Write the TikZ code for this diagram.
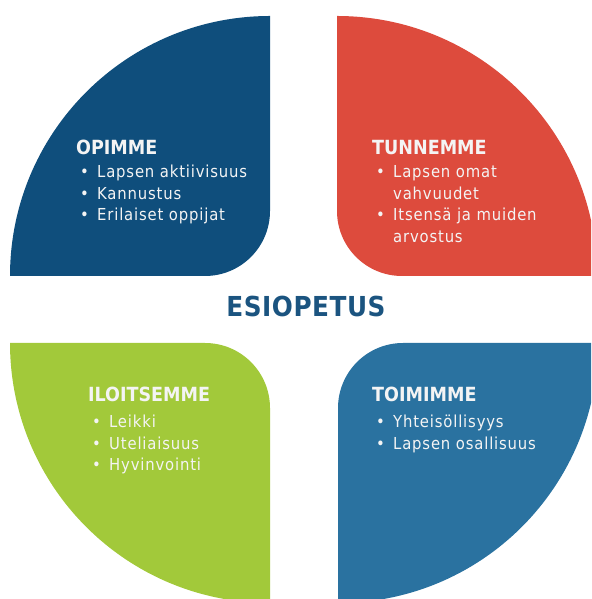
\documentclass[tikz,border=0pt]{standalone}
\usepackage{fontspec}
\setmainfont{DejaVu Sans Condensed}
\usepackage{tikz}
\definecolor{opblue}{HTML}{0F4E7C}
\definecolor{tunred}{HTML}{DD4B3D}
\definecolor{iloGreen}{HTML}{A2C93A}
\definecolor{toiblue}{HTML}{2A72A0}
\definecolor{esiblue}{HTML}{1B5480}
\definecolor{leaftext}{HTML}{F4F4F4}
\tikzstyle{head} = [anchor=base west, inner sep=0pt, text=leaftext, font=\fontsize{19.5}{22}\selectfont\bfseries]
\tikzstyle{item} = [anchor=base west, inner sep=0pt, text=leaftext, font=\fontsize{16.5}{22}\selectfont\addfontfeature{LetterSpace=5}]
\newcommand{\bul}{\makebox[21pt][l]{\hspace{4pt}\textbullet}}
\newcommand{\ind}{\hspace{21pt}}

\begin{document}
\begin{tikzpicture}[x=1pt,y=1pt]
\useasboundingbox (0,0) rectangle (591,599);
\clip (0,0) rectangle (591,599);
\fill[opblue] (270,583) arc[start angle=90,end angle=180,radius=260] -- (205,323) arc[start angle=-90,end angle=0,radius=65] -- cycle;
\fill[tunred] (337,583) arc[start angle=90,end angle=0,radius=260] -- (402,323) arc[start angle=-90,end angle=-180,radius=65] -- cycle;
\fill[iloGreen] (10,256) arc[start angle=180,end angle=270,radius=260] -- (270,191) arc[start angle=0,end angle=90,radius=65] -- cycle;
\fill[toiblue] (598,256) arc[start angle=0,end angle=-90,radius=260] -- (338,191) arc[start angle=180,end angle=90,radius=65] -- cycle;
\node[head] (opimme) at (76,444) {OPIMME};
\node[item] (op1) at (76,421) {\bul Lapsen aktiivisuus};
\node[item] (op2) at (76,399.5) {\bul Kannustus};
\node[item] (op3) at (76,378) {\bul Erilaiset oppijat};
\node[head] (tunnemme) at (372,444) {TUNNEMME};
\node[item] (tu1) at (372,421) {\bul Lapsen omat};
\node[item] (tu1b) at (372,399.5) {\ind vahvuudet};
\node[item] (tu2) at (372,378) {\bul Itsensä ja muiden};
\node[item] (tu2b) at (372,356.5) {\ind arvostus};
\node[head] (iloitsemme) at (88,197) {ILOITSEMME};
\node[item] (il1) at (88,171) {\bul Leikki};
\node[item] (il2) at (88,149.5) {\bul Uteliaisuus};
\node[item] (il3) at (88,128) {\bul Hyvinvointi};
\node[head] (toimimme) at (372,197) {TOIMIMME};
\node[item] (to1) at (372,171) {\bul Yhteisöllisyys};
\node[item] (to2) at (372,149.5) {\bul Lapsen osallisuus};
\node[anchor=base, inner sep=0pt, text=esiblue, font=\fontsize{27.5}{30}\selectfont\bfseries\addfontfeature{LetterSpace=2}] (esiopetus) at (306,282) {ESIOPETUS};
\end{tikzpicture}
\end{document}
